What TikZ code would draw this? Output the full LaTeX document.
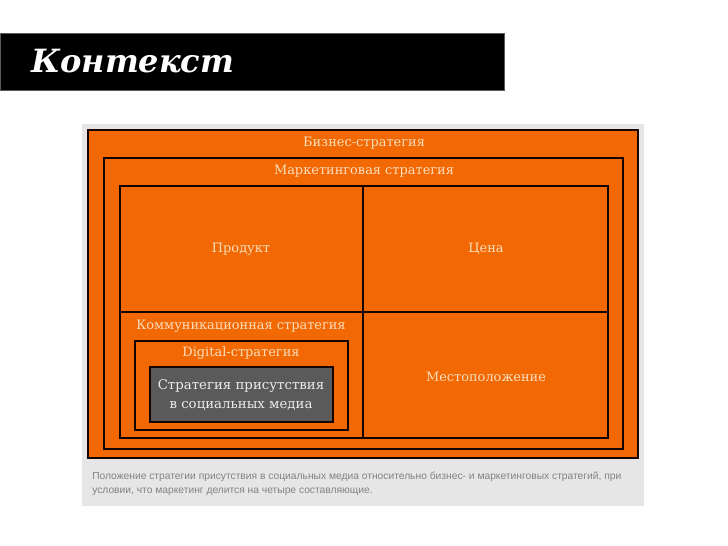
\documentclass[tikz,border=0pt]{standalone}
\usepackage{fontspec}
\setmainfont{DejaVu Serif}
\newfontfamily\capfont{Liberation Sans}

\begin{document}
\begin{tikzpicture}[x=0.75pt,y=0.75pt,yscale=-1,xscale=1,
  box/.style={draw={rgb, 255:red, 20; green, 5; blue, 0 }, line width=1.8pt, fill={rgb, 255:red, 242; green, 104; blue, 2 }},
  lbl/.style={inner sep=0.75pt, text={rgb, 255:red, 250; green, 222; blue, 190 }, font=\fontsize{9.7}{12}\selectfont}]
\useasboundingbox (0,0) rectangle (728,546);

%Shape: Rectangle [title bar]
\draw [fill={rgb, 255:red, 0; green, 0; blue, 0 }, draw={rgb, 255:red, 90; green, 90; blue, 90 }] (0,33) rectangle (504,90) ;
% Text Node
\draw (30,61) node (title) [anchor=west][inner sep=0.75pt, text=white, font=\fontsize{24}{28}\selectfont\bfseries\itshape]  {Контекст};

%Shape: Rectangle [grey panel]
\draw [fill={rgb, 255:red, 230; green, 230; blue, 230 }, draw=none] (82,124) rectangle (644,506) ;
%Shape: Rectangle [business]
\draw [box] (88,130) rectangle (638,458) ;
%Shape: Rectangle [marketing]
\draw [box] (104,158) rectangle (623,449) ;
%Shape: Rectangle [4P grid]
\draw [box] (120,186) rectangle (608,438) ;
%Straight Lines
\draw [box] (363,186) -- (363,438) ;
%Straight Lines
\draw [box] (120,312) -- (608,312) ;
%Shape: Rectangle [digital]
\draw [box] (135,341) rectangle (348,430) ;
%Shape: Rectangle [social media]
\draw [box, fill={rgb, 255:red, 90; green, 90; blue, 90 }] (150,367) rectangle (333,422) ;

% Text Node
\draw (364,143) node (biz) [lbl]  {Бизнес-стратегия};
% Text Node
\draw (364,171) node (mkt) [lbl]  {Маркетинговая стратегия};
% Text Node
\draw (241,249) node (prod) [lbl]  {Продукт};
% Text Node
\draw (486,249) node (price) [lbl]  {Цена};
% Text Node
\draw (241,326) node (comm) [lbl]  {Коммуникационная стратегия};
% Text Node
\draw (241,353) node (dig) [lbl]  {Digital-стратегия};
% Text Node
\draw (486,377) node (place) [lbl]  {Местоположение};
% Text Node
\draw (241,395) node (smm) [lbl, align=center, text={rgb, 255:red, 235; green, 235; blue, 235 }, font=\fontsize{10}{14}\selectfont]  {Стратегия присутствия\\в социальных медиа};

% Text Node
\draw (91,484) node (caption) [anchor=west][inner sep=0.75pt, align=left, text={rgb, 255:red, 130; green, 130; blue, 130 }, font=\capfont\fontsize{7.7}{10.5}\selectfont]  {Положение стратегии присутствия в социальных медиа относительно бизнес- и маркетинговых стратегий, при\\условии, что маркетинг делится на четыре составляющие.};

\end{tikzpicture}
\end{document}
